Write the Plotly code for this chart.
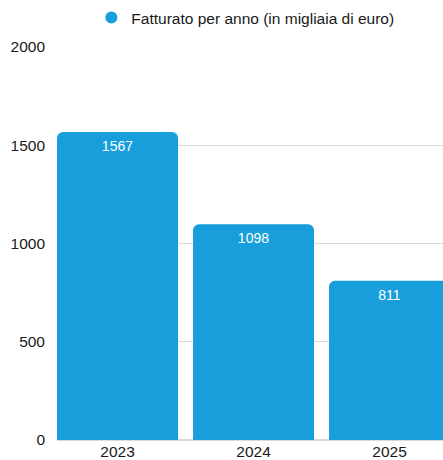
import plotly.graph_objects as go

anni = ["2023", "2024", "2025"]
fatturato = [1567, 1098, 811]
serie_nome = "Fatturato per anno (in migliaia di euro)"
y_ticks = [0, 500, 1000, 1500, 2000]

colore = "#189fdb"
FONT = "Liberation Sans, Arial, Helvetica, sans-serif"

fig = go.Figure()
fig.add_trace(go.Bar(
    x=anni, y=fatturato, text=[str(v) for v in fatturato],
    textposition="inside", insidetextanchor="end",
    textfont=dict(color="white", size=14, family=FONT),
    marker=dict(color=colore, line=dict(width=0)),
    showlegend=False, cliponaxis=True, hoverinfo="skip",
))
fig.add_trace(go.Scatter(
    x=[None], y=[None], mode="markers", name=serie_nome,
    marker=dict(color=colore, size=15, symbol="circle"),
    showlegend=True,
))

fig.update_layout(
    width=443, height=460,
    margin=dict(l=57, r=0, t=47, b=20, autoexpand=False),
    paper_bgcolor="white", plot_bgcolor="white",
    bargap=0.11, barcornerradius=6,
    font=dict(family=FONT, size=15.5, color="#1a1a1a"),
    legend=dict(orientation="h", x=0.488, xanchor="center", y=1.074, yanchor="middle",
                font=dict(size=15.5), itemsizing="constant", itemwidth=30),
    xaxis=dict(type="category", range=[-0.445, 2.393], showgrid=False, showline=False,
               ticks="", tickfont=dict(size=15.5), ticklabelstandoff=0, automargin=False),
    yaxis=dict(range=[0, 2000], tickvals=y_ticks, showgrid=True, gridcolor="#d9d9d9",
               gridwidth=1, zeroline=True, zerolinecolor="#d9d9d9", showline=False,
               ticks="", ticklabelstandoff=11, tickfont=dict(size=15.5), automargin=False),
)

fig.write_html(
    "out.html",
    config={"displayModeBar": False},
    post_script="document.body.style.margin='0';document.body.style.overflow='hidden';",
)
